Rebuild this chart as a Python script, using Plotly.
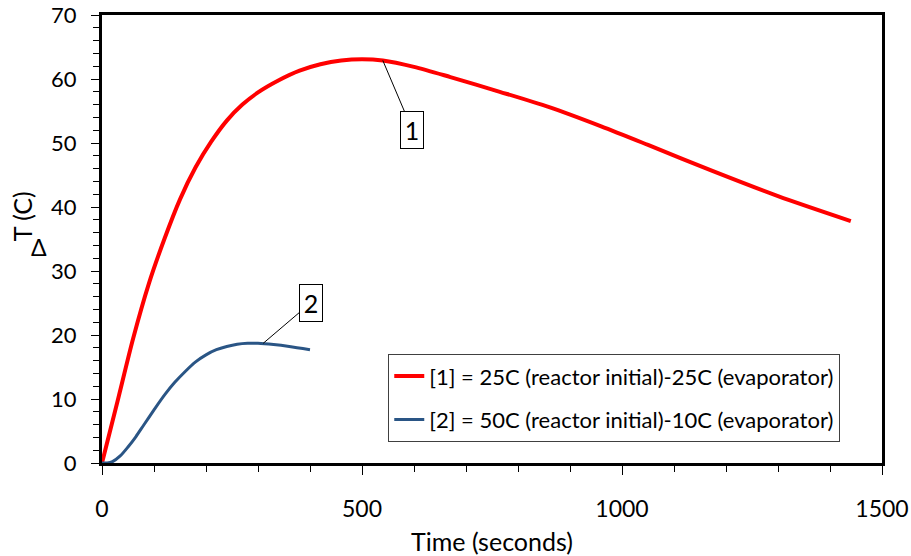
import plotly.graph_objects as go

# Series 1: 25C (reactor initial) - 25C (evaporator)
t1 = [0, 30, 60, 90, 120, 150, 180, 210, 240, 270, 300, 340, 380, 420, 460, 500, 540,
      600, 670, 765, 860, 960, 1050, 1175, 1300, 1440]
dT1 = [0, 9.7, 19.5, 28.0, 35.0, 41.2, 46.2, 50.2, 53.5, 56.0, 57.9, 59.8, 61.3, 62.3,
       62.9, 63.1, 62.9, 61.9, 60.3, 58.0, 55.6, 52.6, 49.7, 45.6, 41.7, 37.8]

# Series 2: 50C (reactor initial) - 10C (evaporator)
t2 = [0, 10, 20, 35, 50, 65, 80, 100, 120, 140, 160, 180, 200, 220, 240, 260, 280, 300,
      330, 360, 400]
dT2 = [0, 0, 0.2, 1.1, 2.5, 4.1, 5.9, 8.3, 10.6, 12.6, 14.3, 15.8, 16.9, 17.7, 18.2,
       18.55, 18.7, 18.7, 18.5, 18.2, 17.7]

names = ["[1] = 25C (reactor initial)-25C (evaporator)",
         "[2] = 50C (reactor initial)-10C (evaporator)"]
label_text = ["1", "2"]
label_pos = [(597, 52), (401, 25)]
label_target = [(540, 62.9), (310, 18.7)]

FONT = "Lato, sans-serif"

fig = go.Figure()
fig.add_trace(go.Scatter(x=t1, y=dT1, mode="lines", name=names[0], legendgroup="a",
                         line=dict(color="#ff0000", width=4, shape="spline", smoothing=0.8)))
fig.add_trace(go.Scatter(x=t2, y=dT2, mode="lines", name=names[1], legendgroup="b",
                         line=dict(color="#2a5585", width=3, shape="spline", smoothing=0.8)))

annotations = []
for txt, (px, py), (hx, hy) in zip(label_text, label_pos, label_target):
    annotations.append(dict(x=hx, y=hy, xref="x", yref="y", ax=px, ay=py,
                            axref="x", ayref="y", text=txt, showarrow=True,
                            arrowhead=0, arrowwidth=1, arrowcolor="black",
                            bordercolor="black", borderwidth=1, borderpad=2,
                            bgcolor="white", width=18, height=32,
                            font=dict(family=FONT, size=25, color="black")))
# y-axis title: rotated "T (C)" with upright delta
annotations.append(dict(x=-0.103, y=0.55, xref="paper", yref="paper", text="T (C)",
                        xanchor="center", yanchor="middle",
                        textangle=-90, showarrow=False,
                        font=dict(family=FONT, size=25, color="black")))
annotations.append(dict(x=-0.081, y=0.482, xref="paper", yref="paper", text="Δ",
                        xanchor="center", yanchor="middle",
                        showarrow=False, font=dict(family=FONT, size=23, color="black")))

fig.update_layout(
    width=911, height=556,
    margin=dict(l=102, r=29, t=15, b=93),
    paper_bgcolor="white", plot_bgcolor="white",
    font=dict(family=FONT, size=23, color="black"),
    showlegend=True,
    legend=dict(x=0.367, y=0.243, xanchor="left", yanchor="top",
                bgcolor="white", bordercolor="#404040", borderwidth=1,
                font=dict(family=FONT, size=22, color="black"),
                tracegroupgap=12, itemwidth=30),
    annotations=annotations,
    xaxis=dict(range=[0, 1500], dtick=500, showgrid=False, zeroline=False,
               showline=True, linecolor="black", linewidth=3, mirror=True,
               ticks="outside", ticklen=9, tickwidth=1, tickcolor="black",
               ticklabelstandoff=14, automargin=False, ticklabeloverflow="allow",
               tickfont=dict(family=FONT, size=23),
               minor=dict(ticks="outside", dtick=100, ticklen=6, tickwidth=1,
                          tickcolor="black", showgrid=False),
               title=dict(text="Time (seconds)", standoff=13,
                          font=dict(family=FONT, size=25))),
    yaxis=dict(range=[0, 70], dtick=10, showgrid=False, zeroline=False,
               showline=True, linecolor="black", linewidth=3, mirror=True,
               ticks="outside", ticklen=8, tickwidth=1, tickcolor="black",
               ticklabelstandoff=10, automargin=False, ticklabeloverflow="allow",
               tickfont=dict(family=FONT, size=22),
               minor=dict(ticks="outside", dtick=2, ticklen=6, tickwidth=1,
                          tickcolor="black", showgrid=False)),
    xaxis2=dict(range=[0, 1500], dtick=500, overlaying="x", anchor="y", side="bottom",
                showgrid=False, zeroline=False, showline=False, showticklabels=False,
                ticks="inside", ticklen=8, tickwidth=1, tickcolor="black", automargin=False),
    yaxis2=dict(range=[0, 70], dtick=10, overlaying="y", anchor="x", side="left",
                showgrid=False, zeroline=False, showline=False, showticklabels=False,
                ticks="inside", ticklen=8, tickwidth=1, tickcolor="black", automargin=False),
)

fig.write_html("out.html")
